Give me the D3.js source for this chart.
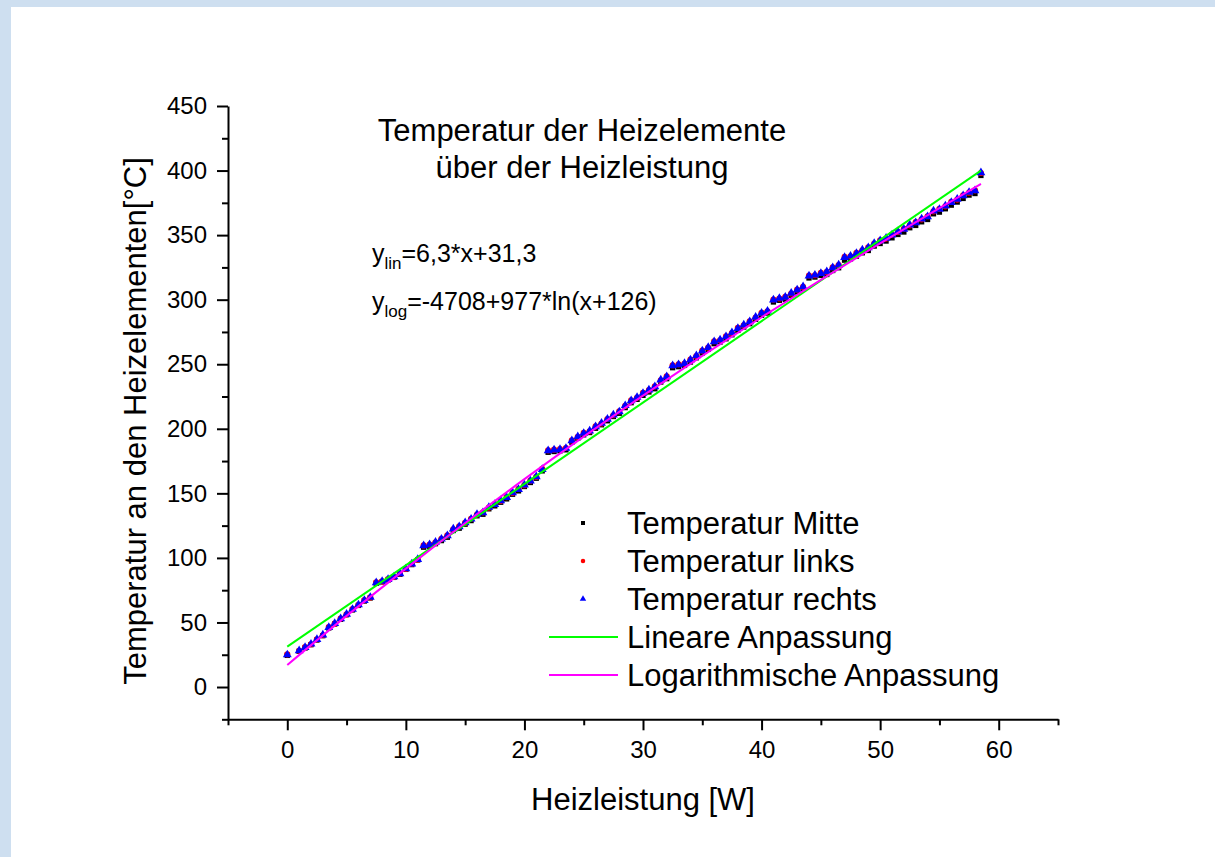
<!DOCTYPE html>
<meta charset="utf-8">
<style>
  body { margin: 0; background: #cedff0; }
  svg { display: block; }
  text { font-family: "Liberation Sans", Arial, sans-serif; fill: #000; }
</style>
<script src="https://d3js.org/d3.v7.min.js"></script>
<div id="chart"></div>
<script>

// Heizleistung [W] (same for all three sensors)
var leistung = [0, 1, 1.5, 2, 2.5, 3, 3.5, 4, 4.5, 5, 5.5, 6, 6.5, 7, 7.5, 8, 8.5, 9, 9.5, 10,
  10.5, 11, 11.5, 12, 12.5, 13, 13.5, 14, 14.5, 15, 15.5, 16, 16.5, 17, 17.5, 18, 18.5, 19, 19.5, 20,
  20.5, 21, 21.5, 22, 22.5, 23, 23.5, 24, 24.5, 25, 25.5, 26, 26.5, 27, 27.5, 28, 28.5, 29, 29.5, 30,
  30.5, 31, 31.5, 32, 32.5, 33, 33.5, 34, 34.5, 35, 35.5, 36, 36.5, 37, 37.5, 38, 38.5, 39, 39.5, 40,
  40.5, 41, 41.5, 42, 42.5, 43, 43.5, 44, 44.5, 45, 45.5, 46, 46.5, 47, 47.5, 48, 48.5, 49, 49.5, 50,
  50.5, 51, 51.5, 52, 52.5, 53, 53.5, 54, 54.5, 55, 55.5, 56, 56.5, 57, 57.5, 58, 58.5];

var tempMitte = [24.5, 27.6, 30.2, 32.8, 36.4, 39.8, 45.7, 48.8, 52.4, 56.0,
  59.7, 63.2, 66.6, 69.0, 80.3, 81.4, 82.9, 84.9, 87.3, 91.1,
  94.8, 98.4, 108.3, 109.0, 111.0, 113.4, 116.0, 121.2, 123.0, 126.1,
  128.9, 132.6, 133.8, 138.0, 140.3, 143.1, 145.7, 149.3, 151.9, 155.3,
  158.4, 161.7, 167.4, 181.8, 182.4, 182.9, 183.7, 189.6, 192.7, 195.3,
  197.1, 200.4, 203.1, 206.2, 209.5, 212.0, 216.4, 220.2, 222.8, 225.9,
  228.5, 231.0, 236.2, 238.8, 247.3, 248.1, 249.1, 251.7, 255.0, 258.7,
  261.5, 265.9, 267.2, 269.7, 272.8, 276.2, 278.8, 281.4, 284.8, 287.9,
  289.6, 298.2, 299.5, 300.3, 303.4, 305.9, 308.5, 316.8, 317.5, 318.8,
  319.5, 322.6, 324.7, 330.6, 331.6, 333.7, 336.3, 338.1, 341.5, 343.5,
  345.4, 347.9, 350.5, 352.4, 355.7, 357.5, 360.3, 362.1, 366.5, 367.8,
  370.4, 373.2, 375.6, 378.4, 381.0, 382.2, 396.2];

var tempLinks = [25.3, 28.0, 30.9, 33.1, 37.0, 40.1, 46.4, 49.1, 53.0, 56.3,
  60.4, 63.5, 67.3, 69.4, 81.0, 81.8, 83.6, 85.2, 88.0, 91.4,
  95.5, 98.7, 109.7, 110.4, 112.0, 114.8, 117.4, 122.2, 124.5, 127.1,
  130.3, 133.6, 135.3, 139.0, 141.7, 144.1, 147.1, 150.3, 153.4, 156.3,
  159.8, 162.7, 168.9, 183.3, 183.8, 184.3, 185.1, 191.0, 193.7, 196.8,
  198.1, 201.9, 204.1, 207.6, 210.5, 213.5, 217.8, 222.0, 224.2, 227.8,
  229.9, 232.9, 237.6, 240.7, 249.2, 249.9, 250.5, 253.6, 256.4, 260.6,
  262.9, 267.8, 268.6, 271.6, 274.2, 278.1, 280.2, 283.3, 286.2, 289.8,
  291.0, 300.1, 300.9, 302.2, 304.8, 307.8, 309.9, 318.7, 318.9, 320.7,
  321.5, 325.1, 326.7, 333.1, 333.6, 336.2, 338.3, 340.6, 343.5, 346.0,
  347.3, 350.4, 352.5, 354.9, 357.6, 360.0, 362.2, 364.6, 368.4, 370.3,
  372.3, 375.7, 377.5, 380.9, 382.9, 384.7, 398.1];

var tempRechts = [25.0, 28.1, 30.7, 33.3, 36.9, 40.3, 46.2, 49.3, 52.9, 56.5,
  60.2, 63.7, 67.1, 69.5, 80.8, 81.9, 83.4, 85.4, 87.8, 91.6,
  95.3, 98.9, 109.5, 110.2, 112.2, 114.6, 117.2, 122.4, 124.2, 127.3,
  130.1, 133.8, 135.0, 139.2, 141.5, 144.3, 146.9, 150.5, 153.1, 156.5,
  159.6, 162.9, 168.6, 183.0, 183.6, 184.1, 184.9, 190.8, 193.9, 196.5,
  198.3, 201.6, 204.3, 207.4, 210.7, 213.2, 218.0, 221.8, 224.4, 227.5,
  230.1, 232.6, 237.8, 240.4, 248.9, 249.7, 250.7, 253.3, 256.6, 260.3,
  263.1, 267.5, 268.8, 271.3, 274.4, 277.8, 280.4, 283.0, 286.4, 289.5,
  291.2, 299.8, 301.1, 301.9, 305.0, 307.5, 310.1, 318.4, 319.1, 320.4,
  321.7, 324.8, 326.9, 332.8, 333.8, 335.9, 338.5, 340.3, 343.7, 345.7,
  347.6, 350.1, 352.7, 354.6, 357.9, 359.7, 362.5, 364.3, 368.7, 370.0,
  372.6, 375.4, 377.8, 380.6, 383.2, 384.4, 398.4];

// fit curves
var linFitX = [0, 58.5];
var linFitY = [31.3, 399.9];
var logFitX = [0, 5, 10, 15, 20, 25, 30, 35, 40, 45, 50, 55, 58.5];
var logFitY = [17.1, 55.1, 91.7, 127.0, 161.0, 193.9, 225.7, 256.5, 286.4, 315.4, 343.6, 370.9, 389.6];

var xMajor = [0, 10, 20, 30, 40, 50, 60];
var xMinor = [-5, 5, 15, 25, 35, 45, 55, 65];
var yMajor = [0, 50, 100, 150, 200, 250, 300, 350, 400, 450];
var yMinor = [-25, 25, 75, 125, 175, 225, 275, 325, 375, 425];

var legendNames = ["Temperatur Mitte", "Temperatur links", "Temperatur rechts",
                   "Lineare Anpassung", "Logarithmische Anpassung"];

var W = 1215, H = 857;

var svg = d3.select("#chart")
  .append("svg")
    .attr("width", W)
    .attr("height", H);

// white panel on the blue frame
svg.append("rect")
  .attr("x", 11).attr("y", 7)
  .attr("width", W - 11).attr("height", H - 7)
  .attr("fill", "#ffffff");

var x = d3.scaleLinear().domain([-5, 65]).range([228, 1058]);
var y = d3.scaleLinear().domain([-25, 450]).range([719.3, 106]);

// X axis
svg.append("g")
  .attr("transform", "translate(0," + y(-25) + ")")
  .call(d3.axisBottom(x).tickValues(xMajor).tickSize(11).tickSizeOuter(0).tickPadding(11));
svg.append("g")
  .attr("transform", "translate(0," + y(-25) + ")")
  .call(d3.axisBottom(x).tickValues(xMinor).tickSize(6).tickSizeOuter(0).tickFormat(""))
  .select(".domain").remove();

// Y axis
svg.append("g")
  .attr("transform", "translate(" + x(-5) + ",0)")
  .call(d3.axisLeft(y).tickValues(yMajor).tickSize(11).tickSizeOuter(0).tickPadding(10));
svg.append("g")
  .attr("transform", "translate(" + x(-5) + ",0)")
  .call(d3.axisLeft(y).tickValues(yMinor).tickSize(6).tickSizeOuter(0).tickFormat(""))
  .select(".domain").remove();

svg.selectAll(".domain, .tick line")
  .attr("stroke", "#000")
  .attr("stroke-width", 2);
svg.selectAll(".tick text")
  .attr("font-family", "Liberation Sans, Arial, sans-serif")
  .attr("font-size", "24px")
  .attr("fill", "#000");

// data points
var pts = leistung.map(function(p, i) {
  return {x: p, mitte: tempMitte[i], links: tempLinks[i], rechts: tempRechts[i]};
});

var sq = d3.symbol().type(d3.symbolSquare).size(28);
var ci = d3.symbol().type(d3.symbolCircle).size(30);
var tr = d3.symbol().type(d3.symbolTriangle).size(34);

svg.append("g").selectAll("path")
  .data(pts).enter().append("path")
    .attr("d", sq)
    .attr("transform", function(d) { return "translate(" + x(d.x) + "," + y(d.mitte) + ")"; })
    .attr("fill", "#000");

svg.append("g").selectAll("path")
  .data(pts).enter().append("path")
    .attr("d", ci)
    .attr("transform", function(d) { return "translate(" + x(d.x) + "," + y(d.links) + ")"; })
    .attr("fill", "#ff0000");

svg.append("g").selectAll("path")
  .data(pts).enter().append("path")
    .attr("d", tr)
    .attr("transform", function(d) { return "translate(" + x(d.x) + "," + y(d.rechts) + ")"; })
    .attr("fill", "#0000ff");

// fit lines
var line = d3.line()
  .x(function(d) { return x(d[0]); })
  .y(function(d) { return y(d[1]); })
  .curve(d3.curveMonotoneX);

svg.append("path")
  .datum(linFitX.map(function(v, i) { return [v, linFitY[i]]; }))
  .attr("d", line)
  .attr("fill", "none")
  .attr("stroke", "#00ff00")
  .attr("stroke-width", 2);

svg.append("path")
  .datum(logFitX.map(function(v, i) { return [v, logFitY[i]]; }))
  .attr("d", line)
  .attr("fill", "none")
  .attr("stroke", "#ff00ff")
  .attr("stroke-width", 2);

// title
svg.append("text")
  .attr("x", 582).attr("y", 141)
  .attr("text-anchor", "middle")
  .attr("font-size", "31px")
  .text("Temperatur der Heizelemente");
svg.append("text")
  .attr("x", 582).attr("y", 178)
  .attr("text-anchor", "middle")
  .attr("font-size", "31px")
  .text("über der Heizleistung");

// equations
var eq1 = svg.append("text").attr("x", 372).attr("y", 262).attr("font-size", "25px");
eq1.append("tspan").text("y");
eq1.append("tspan").attr("font-size", "17px").attr("dy", 7).text("lin");
eq1.append("tspan").attr("dy", -7).text("=6,3*x+31,3");

var eq2 = svg.append("text").attr("x", 372).attr("y", 310).attr("font-size", "25px");
eq2.append("tspan").text("y");
eq2.append("tspan").attr("font-size", "17px").attr("dy", 7).text("log");
eq2.append("tspan").attr("dy", -7).text("=-4708+977*ln(x+126)");

// axis titles
svg.append("text")
  .attr("x", 643).attr("y", 810)
  .attr("text-anchor", "middle")
  .attr("font-size", "31px")
  .text("Heizleistung [W]");
svg.append("text")
  .attr("transform", "translate(146,421) rotate(-90)")
  .attr("text-anchor", "middle")
  .attr("font-size", "31px")
  .text("Temperatur an den Heizelementen[°C]");

// legend
var legY = [523, 561, 599, 637, 675];
var leg = svg.append("g");
leg.append("path").attr("d", d3.symbol().type(d3.symbolSquare).size(16))
  .attr("transform", "translate(583," + legY[0] + ")").attr("fill", "#000");
leg.append("path").attr("d", d3.symbol().type(d3.symbolCircle).size(16))
  .attr("transform", "translate(583," + legY[1] + ")").attr("fill", "#ff0000");
leg.append("path").attr("d", d3.symbol().type(d3.symbolTriangle).size(18))
  .attr("transform", "translate(583," + legY[2] + ")").attr("fill", "#0000ff");
leg.append("line").attr("x1", 549).attr("x2", 618).attr("y1", legY[3]).attr("y2", legY[3])
  .attr("stroke", "#00ff00").attr("stroke-width", 2);
leg.append("line").attr("x1", 549).attr("x2", 618).attr("y1", legY[4]).attr("y2", legY[4])
  .attr("stroke", "#ff00ff").attr("stroke-width", 2);
leg.selectAll("text")
  .data(legendNames).enter().append("text")
    .attr("x", 627)
    .attr("y", function(d, i) { return legY[i] + 11; })
    .attr("font-size", "31px")
    .text(function(d) { return d; });

</script>
